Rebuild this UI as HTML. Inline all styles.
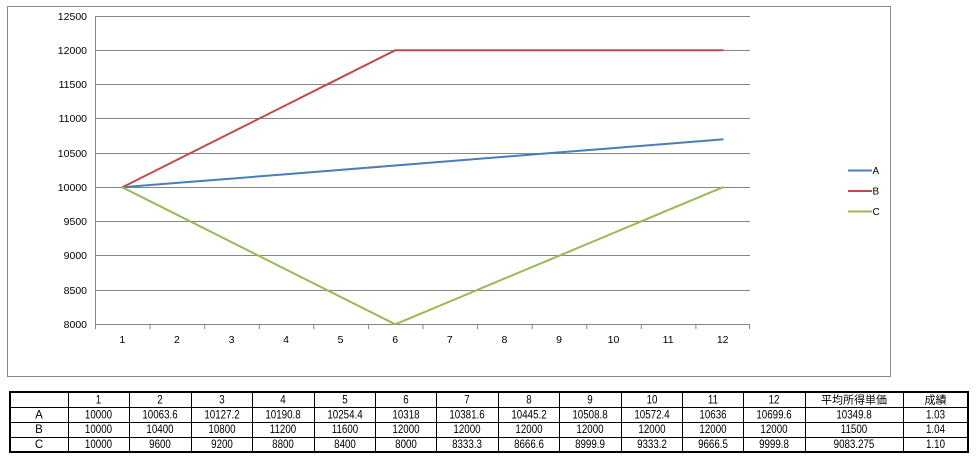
<!DOCTYPE html>
<html><head><meta charset="utf-8"><style>
html,body{margin:0;padding:0;background:#fff;}
svg{display:block;}
.ax{font-family:"Liberation Sans",sans-serif;font-size:10.5px;fill:#000;}
.tb{font-family:"Liberation Sans","Noto Sans CJK JP",sans-serif;font-size:11.5px;fill:#000;}
.cjk{font-family:"Liberation Sans","Noto Sans CJK JP",sans-serif;font-size:11px;fill:#000;}
</style></head><body>
<svg width="978" height="462" viewBox="0 0 978 462" xmlns="http://www.w3.org/2000/svg">
<rect x="0" y="0" width="978" height="462" fill="#fff"/>
<rect x="7.5" y="6.5" width="883" height="370" fill="#fff" stroke="#888" stroke-width="1"/>
<g stroke="#868686" stroke-width="1">
<line x1="95" y1="16.5" x2="750" y2="16.5"/>
<line x1="95" y1="50.5" x2="750" y2="50.5"/>
<line x1="95" y1="84.5" x2="750" y2="84.5"/>
<line x1="95" y1="118.5" x2="750" y2="118.5"/>
<line x1="95" y1="153.5" x2="750" y2="153.5"/>
<line x1="95" y1="187.5" x2="750" y2="187.5"/>
<line x1="95" y1="221.5" x2="750" y2="221.5"/>
<line x1="95" y1="255.5" x2="750" y2="255.5"/>
<line x1="95" y1="290.5" x2="750" y2="290.5"/>
<line x1="95" y1="324.5" x2="750" y2="324.5"/>
<line x1="95.5" y1="16" x2="95.5" y2="325"/>
<line x1="95.5" y1="324" x2="95.5" y2="329"/>
<line x1="150.1" y1="324" x2="150.1" y2="329"/>
<line x1="204.7" y1="324" x2="204.7" y2="329"/>
<line x1="259.3" y1="324" x2="259.3" y2="329"/>
<line x1="313.8" y1="324" x2="313.8" y2="329"/>
<line x1="368.4" y1="324" x2="368.4" y2="329"/>
<line x1="423" y1="324" x2="423" y2="329"/>
<line x1="477.6" y1="324" x2="477.6" y2="329"/>
<line x1="532.2" y1="324" x2="532.2" y2="329"/>
<line x1="586.8" y1="324" x2="586.8" y2="329"/>
<line x1="641.3" y1="324" x2="641.3" y2="329"/>
<line x1="695.9" y1="324" x2="695.9" y2="329"/>
<line x1="749.5" y1="324" x2="749.5" y2="329"/>
</g>
<g class="ax" text-anchor="end">
<text x="87" y="20">12500</text>
<text x="87" y="54">12000</text>
<text x="87" y="88">11500</text>
<text x="87" y="122">11000</text>
<text x="87" y="157">10500</text>
<text x="87" y="191">10000</text>
<text x="87" y="225">9500</text>
<text x="87" y="259">9000</text>
<text x="87" y="294">8500</text>
<text x="87" y="328">8000</text>
</g>
<g class="ax" text-anchor="middle">
<text x="122.3" y="343">1</text>
<text x="176.9" y="343">2</text>
<text x="231.5" y="343">3</text>
<text x="286" y="343">4</text>
<text x="340.6" y="343">5</text>
<text x="395.2" y="343">6</text>
<text x="449.8" y="343">7</text>
<text x="504.4" y="343">8</text>
<text x="559" y="343">9</text>
<text x="613.5" y="343">10</text>
<text x="668.1" y="343">11</text>
<text x="722.7" y="343">12</text>
</g>
<g fill="none" stroke-width="2" stroke-linejoin="round" stroke-linecap="round">
<polyline stroke="#4A7EBB" points="122.3,187.3 176.9,182.9 231.5,178.6 286,174.2 340.6,169.9 395.2,165.5 449.8,161.1 504.4,156.8 559,152.4 613.5,148.1 668.1,143.7 722.7,139.4"/>
<polyline stroke="#BE4B48" points="122.3,187.3 176.9,159.9 231.5,132.5 286,105.1 340.6,77.7 395.2,50.3 449.8,50.3 504.4,50.3 559,50.3 613.5,50.3 668.1,50.3 722.7,50.3"/>
<polyline stroke="#98B954" points="122.3,187.3 176.9,214.7 231.5,242.1 286,269.5 340.6,296.9 395.2,324.3 449.8,301.5 504.4,278.6 559,255.8 613.5,233 668.1,210.1 722.7,187.3"/>
</g>
<g stroke-width="2">
<line x1="848" y1="170.5" x2="872" y2="170.5" stroke="#4A7EBB"/>
<line x1="848" y1="191" x2="872" y2="191" stroke="#BE4B48"/>
<line x1="848" y1="211.5" x2="872" y2="211.5" stroke="#98B954"/>
</g>
<g class="ax" style="font-size:10px">
<text x="872.5" y="174">A</text>
<text x="872.5" y="194.5">B</text>
<text x="872.5" y="215">C</text>
</g>

<g stroke="#000" stroke-width="1">
<line x1="10" y1="407.5" x2="968" y2="407.5"/>
<line x1="10" y1="422.5" x2="968" y2="422.5"/>
<line x1="10" y1="437.5" x2="968" y2="437.5"/>
<line x1="68.5" y1="392" x2="68.5" y2="452"/>
<line x1="129.5" y1="392" x2="129.5" y2="452"/>
<line x1="191.5" y1="392" x2="191.5" y2="452"/>
<line x1="252.5" y1="392" x2="252.5" y2="452"/>
<line x1="314.5" y1="392" x2="314.5" y2="452"/>
<line x1="375.5" y1="392" x2="375.5" y2="452"/>
<line x1="436.5" y1="392" x2="436.5" y2="452"/>
<line x1="498.5" y1="392" x2="498.5" y2="452"/>
<line x1="559.5" y1="392" x2="559.5" y2="452"/>
<line x1="621.5" y1="392" x2="621.5" y2="452"/>
<line x1="682.5" y1="392" x2="682.5" y2="452"/>
<line x1="743.5" y1="392" x2="743.5" y2="452"/>
<line x1="805.5" y1="392" x2="805.5" y2="452"/>
<line x1="903.5" y1="392" x2="903.5" y2="452"/>
</g>
<rect x="10" y="392" width="958" height="60" fill="none" stroke="#000" stroke-width="2"/>

<g class="tb" text-anchor="middle">
<g transform="translate(0,403.5)">
<text transform="translate(98.5,0) scale(0.85,1)">1</text>
<text transform="translate(160,0) scale(0.85,1)">2</text>
<text transform="translate(222,0) scale(0.85,1)">3</text>
<text transform="translate(283,0) scale(0.85,1)">4</text>
<text transform="translate(345,0) scale(0.85,1)">5</text>
<text transform="translate(406,0) scale(0.85,1)">6</text>
<text transform="translate(467,0) scale(0.85,1)">7</text>
<text transform="translate(529,0) scale(0.85,1)">8</text>
<text transform="translate(590,0) scale(0.85,1)">9</text>
<text transform="translate(652,0) scale(0.85,1)">10</text>
<text transform="translate(713,0) scale(0.85,1)">11</text>
<text transform="translate(774,0) scale(0.85,1)">12</text>
<text class="cjk" x="854" y="0">平均所得単価</text>
<text class="cjk" x="935.5" y="0">成績</text>
</g>
<g transform="translate(0,418.5)">
<text x="39" y="0">A</text>
<text transform="translate(98.5,0) scale(0.85,1)">10000</text>
<text transform="translate(160,0) scale(0.85,1)">10063.6</text>
<text transform="translate(222,0) scale(0.85,1)">10127.2</text>
<text transform="translate(283,0) scale(0.85,1)">10190.8</text>
<text transform="translate(345,0) scale(0.85,1)">10254.4</text>
<text transform="translate(406,0) scale(0.85,1)">10318</text>
<text transform="translate(467,0) scale(0.85,1)">10381.6</text>
<text transform="translate(529,0) scale(0.85,1)">10445.2</text>
<text transform="translate(590,0) scale(0.85,1)">10508.8</text>
<text transform="translate(652,0) scale(0.85,1)">10572.4</text>
<text transform="translate(713,0) scale(0.85,1)">10636</text>
<text transform="translate(774,0) scale(0.85,1)">10699.6</text>
<text transform="translate(854,0) scale(0.85,1)">10349.8</text>
<text transform="translate(935.5,0) scale(0.85,1)">1.03</text>
</g>
<g transform="translate(0,433)">
<text x="39" y="0">B</text>
<text transform="translate(98.5,0) scale(0.85,1)">10000</text>
<text transform="translate(160,0) scale(0.85,1)">10400</text>
<text transform="translate(222,0) scale(0.85,1)">10800</text>
<text transform="translate(283,0) scale(0.85,1)">11200</text>
<text transform="translate(345,0) scale(0.85,1)">11600</text>
<text transform="translate(406,0) scale(0.85,1)">12000</text>
<text transform="translate(467,0) scale(0.85,1)">12000</text>
<text transform="translate(529,0) scale(0.85,1)">12000</text>
<text transform="translate(590,0) scale(0.85,1)">12000</text>
<text transform="translate(652,0) scale(0.85,1)">12000</text>
<text transform="translate(713,0) scale(0.85,1)">12000</text>
<text transform="translate(774,0) scale(0.85,1)">12000</text>
<text transform="translate(854,0) scale(0.85,1)">11500</text>
<text transform="translate(935.5,0) scale(0.85,1)">1.04</text>
</g>
<g transform="translate(0,448)">
<text x="39" y="0">C</text>
<text transform="translate(98.5,0) scale(0.85,1)">10000</text>
<text transform="translate(160,0) scale(0.85,1)">9600</text>
<text transform="translate(222,0) scale(0.85,1)">9200</text>
<text transform="translate(283,0) scale(0.85,1)">8800</text>
<text transform="translate(345,0) scale(0.85,1)">8400</text>
<text transform="translate(406,0) scale(0.85,1)">8000</text>
<text transform="translate(467,0) scale(0.85,1)">8333.3</text>
<text transform="translate(529,0) scale(0.85,1)">8666.6</text>
<text transform="translate(590,0) scale(0.85,1)">8999.9</text>
<text transform="translate(652,0) scale(0.85,1)">9333.2</text>
<text transform="translate(713,0) scale(0.85,1)">9666.5</text>
<text transform="translate(774,0) scale(0.85,1)">9999.8</text>
<text transform="translate(854,0) scale(0.85,1)">9083.275</text>
<text transform="translate(935.5,0) scale(0.85,1)">1.10</text>
</g>
</g>
</svg>
</body></html>
